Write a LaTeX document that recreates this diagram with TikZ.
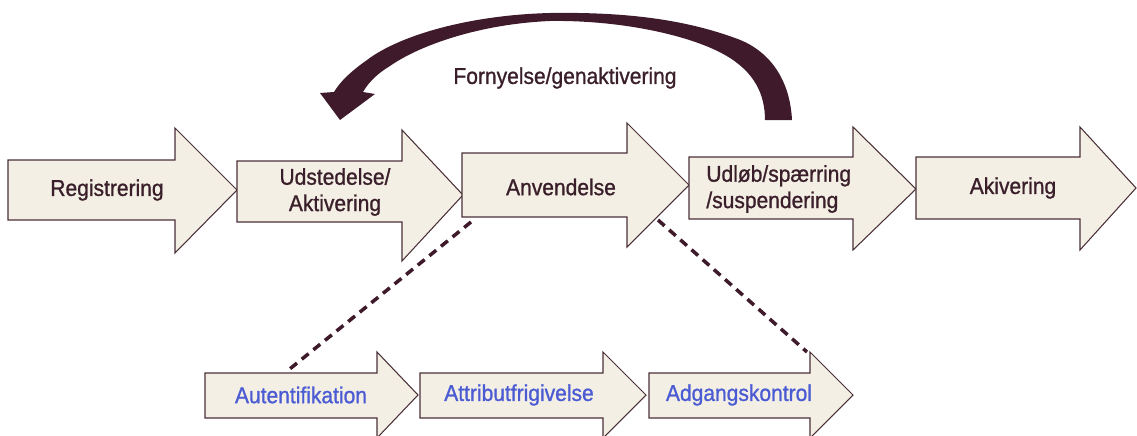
\documentclass[tikz,border=0pt]{standalone}
\usepackage{fontspec}
\setmainfont{Liberation Sans}[FakeStretch=0.92,BoldFont={Liberation Sans},BoldFeatures={FakeBold=1.0}]
\definecolor{boxfill}{HTML}{F3EFE5}
\definecolor{boxline}{HTML}{4A3038}
\definecolor{darktxt}{HTML}{3A1F2B}
\definecolor{bluetxt}{HTML}{4B5BD3}
\definecolor{loopcol}{HTML}{3E1A2A}
\begin{document}
\begin{tikzpicture}[x=0.02cm,y=-0.02cm,
  flowbox/.style={fill=boxfill,draw=boxline,line width=0.6pt,line join=miter},
  maintxt/.style={text=darktxt,font=\fontsize{13}{15}\selectfont\bfseries,inner sep=0pt},
  subtxt/.style={text=bluetxt,font=\fontsize{13}{15}\selectfont\bfseries,inner sep=0pt},
  linkline/.style={draw=loopcol,line width=2pt,dash pattern=on 5pt off 3.5pt}]
\useasboundingbox (0,0) rectangle (1137,436);
% main arrows
\path[flowbox] (8,160) -- (175,160) -- (175,128) -- (237,190) -- (175,253) -- (175,220) -- (8,220) -- cycle;
\path[flowbox] (237,161) -- (402,161) -- (402,130) -- (463,195) -- (402,261) -- (402,222) -- (237,222) -- cycle;
\path[flowbox] (462,153) -- (627,153) -- (627,123) -- (689,185) -- (627,247) -- (627,217) -- (462,217) -- cycle;
\path[flowbox] (689,157) -- (853,157) -- (853,127) -- (916,189) -- (853,250) -- (853,219) -- (689,219) -- cycle;
\path[flowbox] (916,157) -- (1080,157) -- (1080,127) -- (1136,188) -- (1080,250) -- (1080,219) -- (916,219) -- cycle;
% sub arrows
\path[flowbox] (205,373) -- (377,373) -- (377,352) -- (418,395) -- (377,438) -- (377,418) -- (205,418) -- cycle;
\path[flowbox] (420,373) -- (603,373) -- (603,352) -- (646,395) -- (603,438) -- (603,418) -- (420,418) -- cycle;
\path[flowbox] (649,373) -- (810,373) -- (810,352) -- (853,395) -- (810,438) -- (810,418) -- (649,418) -- cycle;
% texts
\node[maintxt] (reg) at (107,190) {Registrering};
\node[maintxt,align=center] (udst) at (335,192) {Udstedelse/\\Aktivering};
\node[maintxt] (anv) at (561,187) {Anvendelse};
\node[maintxt,align=left,anchor=west] (udl) at (706,189) {Udløb/spærring\\/suspendering};
\node[maintxt] (akiv) at (1013,188) {Akivering};
\node[maintxt] (forn) at (565,78) {Fornyelse/genaktivering};
\node[subtxt] (aut) at (301,395) {Autentifikation};
\node[subtxt] (attr) at (519,395) {Attributfrigivelse};
\node[subtxt] (adg) at (739,395) {Adgangskontrol};
% link points
\coordinate (anvL) at (471,222);
\coordinate (anvR) at (658,220);
\coordinate (autT) at (286,372);
\coordinate (adgT) at (807,352);
\draw[linkline] (anvL) -- (autT);
\draw[linkline] (anvR) -- (adgT);
% renewal loop arrow
\fill[loopcol] (792,120) .. controls (790,80) and (770,50) .. (735,38)
  .. controls (680,18) and (620,12) .. (550,13)
  .. controls (470,15) and (400,35) .. (367,60)
  .. controls (350,72) and (340,82) .. (334,92)
  -- (320,93) -- (340,120) -- (375,94) -- (363,92)
  .. controls (370,80) and (380,72) .. (390,66)
  .. controls (420,45) and (480,24) .. (550,21)
  .. controls (620,20) and (690,35) .. (725,55)
  .. controls (755,72) and (765,95) .. (765,120) -- cycle;
\end{tikzpicture}
\end{document}
